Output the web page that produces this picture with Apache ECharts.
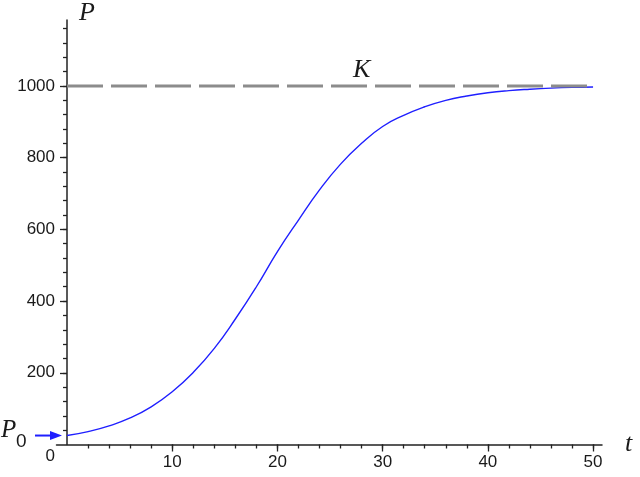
<!DOCTYPE html>
<html><head><meta charset="utf-8">
<script src="https://cdn.jsdelivr.net/npm/echarts@6/dist/echarts.min.js"></script>
<style>html,body{margin:0;padding:0;background:#fff}#c{width:640px;height:477px}</style>
</head><body><div id="c"></div>
<script>
// ---- data ----
const tValues = [0,2,4,6,8,10,12,14,16,18,20,22,24,26,28,30,32,34,36,38,40,42,44,46,48,50];
const pValues = [25,36,52,74,105,147,201,268,350,440,538,626,710,782,840,887,918,942,960,972,981,987,991,994,996,997];
const capacityK = 1000;
const capacityStartT = 0;
const capacityEndT = 50;
const kLabelT = 28;
const p0Value = 25;
const xLabelValues = [10,20,30,40,50];
const xMajorTicks = [10,20,30,40,50];
const xMinorTicks = [2,4,6,8,10,12,14,16,18,20,22,24,26,28,30,32,34,36,38,40,42,44,46,48,50];
const yLabelValues = [0,200,400,600,800,1000];
const yMajorTicks = [200,400,600,800,1000];
const yMinorTicks = [40,80,120,160,200,240,280,320,360,400,440,480,520,560,600,640,680,720,760,800,840,880,920,960,1000,1040,1080,1120,1160];

const axisColor = '#222';
const textColor = '#1a1a1a';
const curveColor = '#1f1fff';
const serifItalic = {fontFamily:'Liberation Serif', fontStyle:'italic', fontSize:26, color:textColor};
const labelFont = {fontFamily:'Liberation Sans', fontSize:17, color:textColor};
const X_MIN = -1, X_MAX = 50.85, Y_MIN = 0, Y_MAX = 1184;

const chart = echarts.init(document.getElementById('c'), null, {renderer:'canvas'});
const option = {
  animation:false,
  backgroundColor:'#fff',
  grid:{left:56.5, top:20, width:545.5, height:424.5, containLabel:false},
  xAxis:[{
    type:'value', min:X_MIN, max:X_MAX,
    axisLine:{show:true, onZero:true, lineStyle:{color:axisColor, width:1.5}},
    axisTick:{show:true, length:4, customValues:xMinorTicks, lineStyle:{color:axisColor, width:1.3}},
    axisLabel:Object.assign({customValues:xLabelValues, margin:9}, labelFont),
    splitLine:{show:false},
    name:'t', nameLocation:'end', nameGap:23,
    nameTextStyle:Object.assign({verticalAlign:'middle', align:'left'}, serifItalic)
  },{
    type:'value', min:X_MIN, max:X_MAX, position:'top',
    axisLine:{show:false, onZero:true},
    axisTick:{show:true, inside:true, length:7, customValues:xMajorTicks, lineStyle:{color:axisColor, width:1.3}},
    axisLabel:{show:false}, splitLine:{show:false}
  }],
  yAxis:[{
    type:'value', min:Y_MIN, max:Y_MAX,
    axisLine:{show:true, onZero:true, lineStyle:{color:axisColor, width:1.5}},
    axisTick:{show:true, length:4, customValues:yMinorTicks, lineStyle:{color:axisColor, width:1.3}},
    axisLabel:Object.assign({
      customValues:yLabelValues, margin:1.5,
      formatter:function(v){ return v === 0 ? '{o|0}' : String(v); },
      rich:{o:Object.assign({padding:[23,0,0,0]}, labelFont)}
    }, labelFont),
    splitLine:{show:false},
    name:'P', nameLocation:'end', nameGap:6.5,
    nameTextStyle:Object.assign({verticalAlign:'middle', align:'left', padding:[0,0,0,12]}, serifItalic)
  },{
    type:'value', min:Y_MIN, max:Y_MAX, position:'right',
    axisLine:{show:false, onZero:true},
    axisTick:{show:true, inside:true, length:7, customValues:yMajorTicks, lineStyle:{color:axisColor, width:1.3}},
    axisLabel:{show:false}, splitLine:{show:false}
  }],
  series:[{
    type:'line', xAxisIndex:0, yAxisIndex:0,
    data:tValues.map(function(t,i){ return [t, pValues[i]]; }),
    showSymbol:false, smooth:true, silent:true,
    lineStyle:{color:curveColor, width:1.4}
  },{
    type:'line', xAxisIndex:0, yAxisIndex:0,
    data:[[capacityStartT, capacityK],[capacityEndT, capacityK]],
    showSymbol:false, silent:true,
    lineStyle:{color:'#8c8c8c', width:3, type:[36,8]},
    markPoint:{
      symbol:'circle', symbolSize:0, silent:true,
      data:[{coord:[kLabelT, capacityK]}],
      label:Object.assign({show:true, position:'top', distance:3, formatter:'K'}, serifItalic)
    }
  }]
};
chart.setOption(option);

// P0 arrow + label, anchored on the curve's start point
const pt = chart.convertToPixel({xAxisIndex:0, yAxisIndex:0}, [tValues[0], p0Value]);
const ax = pt[0], ay = pt[1];
chart.setOption({graphic:[
  {type:'line', silent:true, shape:{x1:ax-32, y1:ay, x2:ax-12, y2:ay}, style:{stroke:curveColor, lineWidth:2}},
  {type:'polygon', silent:true, shape:{points:[[ax-5,ay],[ax-17,ay-4.5],[ax-17,ay+4.5]]}, style:{fill:curveColor}},
  {type:'text', silent:true, x:ax-66, y:ay-5, style:{text:'P', fontFamily:'Liberation Serif', fontStyle:'italic', fontSize:25, fill:textColor, verticalAlign:'middle', align:'left'}},
  {type:'text', silent:true, x:ax-51, y:ay+6.5, style:{text:'0', fontFamily:'Liberation Sans', fontSize:19, fill:textColor, verticalAlign:'middle', align:'left'}}
]});
</script>
</body></html>
